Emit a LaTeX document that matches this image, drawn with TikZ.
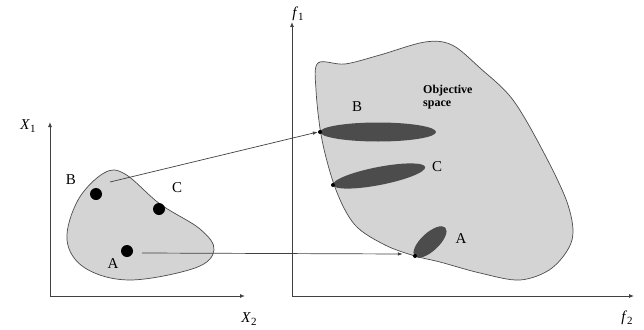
\documentclass[tikz,border=0pt]{standalone}
\usepackage{fontspec}
\setmainfont{Liberation Serif}
\usetikzlibrary{arrows.meta}
\newcommand{\axname}[2]{\textit{#1}\raisebox{-0.4ex}{\fontsize{11}{12}\selectfont #2}}
\begin{document}
\begin{tikzpicture}[x=1pt,y=-1pt,
  axis/.style={draw=black!75,line width=0.9pt,-{Latex[length=5pt,width=4pt]}},
  link/.style={draw=black!75,line width=0.7pt,-{Latex[length=5pt,width=3.5pt]}},
  region/.style={draw=black!70,fill=black!17,line width=0.7pt},
  blob/.style={fill=black!70,draw=none},
  pt/.style={circle,fill=black,inner sep=0pt,minimum size=12pt},
  tinypt/.style={circle,fill=black,inner sep=0pt,minimum size=4pt},
  lab/.style={font=\fontsize{15}{17}\selectfont,inner sep=0pt},
  axlab/.style={font=\fontsize{15}{17}\selectfont,inner sep=0pt}]
\useasboundingbox (0,0) rectangle (644,329);
% left axes
\coordinate (lo) at (50,296);
\coordinate (lx) at (245,296);
\coordinate (ly) at (50,122);
\draw[axis] (lo) -- (lx);
\draw[axis] (lo) -- (ly);
\node[axlab] (X1) at (28,126) {\axname{X}{1}};
\node[axlab] (X2) at (249,319) {\axname{X}{2}};
% left region
\draw[region] plot[smooth cycle,tension=0.6] coordinates {(104,173) (125,174) (160,204) (200,229) (214,250) (195,268) (130,280) (85,268) (67,240) (78,200)};
\node[pt] (pB) at (96,194) {};
\node[pt] (pC) at (159,209) {};
\node[pt] (pA) at (127,251) {};
\node[lab] (lB) at (71,180) {B};
\node[lab] (lC) at (177,188) {C};
\node[lab] (lA) at (113,264) {A};
% right axes
\coordinate (ro) at (292,296);
\coordinate (rx) at (634,296);
\coordinate (ry) at (292,22);
\draw[axis] (ro) -- (rx);
\draw[axis] (ro) -- (ry);
\node[axlab] (f1) at (298,14) {\axname{f}{1}};
\node[axlab] (f2) at (627,318) {\axname{f}{2}};
% objective region
\draw[region] plot[smooth cycle,tension=0.55] coordinates {(318,63) (345,64) (380,55) (425,42) (452,45) (480,68) (513,100) (545,155) (568,205) (572,240) (552,268) (520,280) (480,273) (440,262) (415,256) (385,245) (355,225) (336,190) (322,140) (316,90)};
\fill[blob] (378,132) ellipse [x radius=58, y radius=9.5];
\fill[blob,rotate around={11:(379,176)}] (379,176) ellipse [x radius=47, y radius=9];
\fill[blob,rotate around={43:(430,242)}] (430,242) ellipse [x radius=21, y radius=9];
\node[tinypt] (eB) at (320,132) {};
\node[tinypt] (eC) at (333,185) {};
\node[tinypt] (eA) at (415,256) {};
\node[lab] (rB) at (357,107) {B};
\node[lab] (rC) at (437,167) {C};
\node[lab] (rA) at (461,239) {A};
\node[font=\bfseries\fontsize{12}{13}\selectfont,align=left,inner sep=0pt,anchor=west] (obj) at (423,97) {Objective\\space};
% links
\draw[link] (pB) ++(14,-12) coordinate (sB) -- (eB.west);
\draw[link] (pA) ++(15,2) coordinate (sA) -- ([xshift=-10pt,yshift=2pt]eA.west);
\end{tikzpicture}
\end{document}
